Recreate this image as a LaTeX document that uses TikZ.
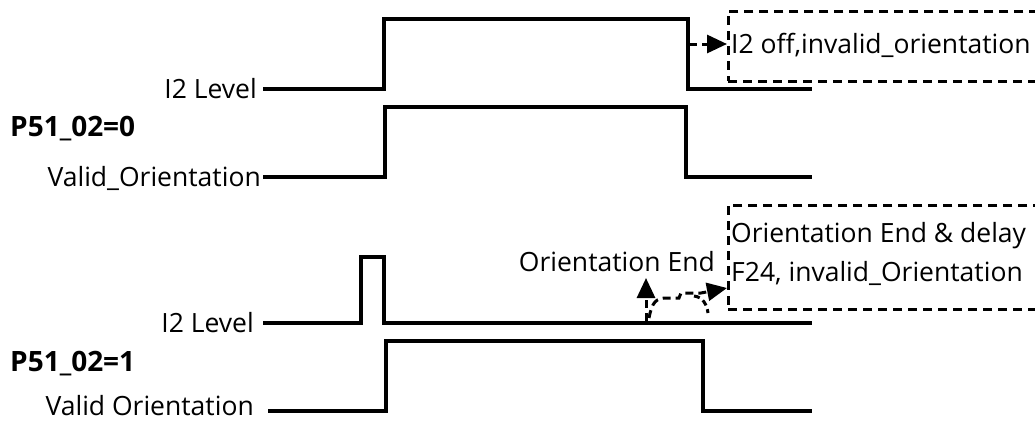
\documentclass[tikz,border=0pt]{standalone}
\usepackage{fontspec}
\setmainfont{Open Sans}
\usetikzlibrary{arrows.meta}
\begin{document}
\begin{tikzpicture}[x=1pt,y=-1pt,
  sig/.style={line width=3.5pt, line join=miter},
  lbl/.style={font=\fontsize{26.5}{30}\selectfont, inner sep=0pt, anchor=east},
  plbl/.style={font=\bfseries\fontsize{28}{32}\selectfont, inner sep=0pt, anchor=west},
  btxt/.style={font=\fontsize{26.5}{30}\selectfont, inner sep=0pt, anchor=west},
  dsh/.style={line width=3pt, dash pattern=on 8pt off 5pt},
  boxd/.style={draw, line width=2.6pt, dash pattern=on 9pt off 6pt, inner sep=0pt, anchor=north west, minimum width=330pt},
  tip/.style={-{Triangle[length=20pt,width=18pt]}},
  ]
\useasboundingbox (0,0) rectangle (1035,421);

% labels
\node[lbl] (i2a) at (257,89) {I2 Level};
\node[plbl] (p0) at (10,129) {P51\_02=0};
\node[lbl] (va) at (261,178) {Valid\_Orientation};
\node[lbl] (i2b) at (254,323) {I2 Level};
\node[plbl] (p1) at (10,364) {P51\_02=1};
\node[lbl] (vb) at (254,406) {Valid Orientation};

% signals
\coordinate (a0) at (263,89);
\draw[sig] (a0) -| (384,19) -| (688,89) -- (812,89);
\coordinate (b0) at (263,177);
\draw[sig] (b0) -| (385,107) -| (686,177) -- (812,177);
\coordinate (c0) at (263,323);
\draw[sig] (c0) -| (361,257) -| (384,323) -- (812,323);
\coordinate (d0) at (268,411);
\draw[sig] (d0) -| (386,341) -| (703,411) -- (812,411);

% box 1
\node[boxd, minimum height=70pt] (box1) at (727,10) {};
\node[btxt] (t1) at (731,45) {I2 off,invalid\_orientation};
\coordinate (f1) at (689,44);
\draw[dsh, tip] (f1) -- (box1.west |- f1);

% box 2
\node[boxd, minimum height=104pt] (box2) at (727,204) {};
\node[btxt] (t2a) at (731,236) {Orientation End \& delay};
\node[btxt] (t2b) at (731,273) {F24, invalid\_Orientation};
\node[lbl] (oe) at (715,262) {Orientation End};

% arrows near orientation end
\coordinate (e0) at (646,321);
\coordinate (e1) at (646,278);
\draw[dsh, tip] (e0) -- (e1);
\coordinate (g0) at (649,318);
\coordinate (g1) at (726,288);
\draw[dsh, tip] (g0) .. controls (652,302) and (656,298) .. (667,298) -- (679,298) -- (681,293) -- (701,293) -- (box2.west |- g1);
\coordinate (h0) at (694,296);
\coordinate (h1) at (708,313);
\draw[dsh, dash pattern=on 6pt off 4pt] (h0) .. controls (703,297) and (707,305) .. (h1);
\end{tikzpicture}
\end{document}
